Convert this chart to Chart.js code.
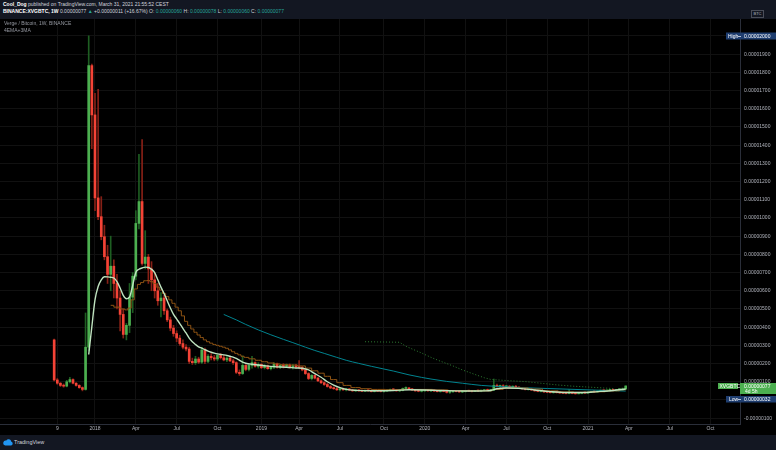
<!DOCTYPE html>
<html>
<head>
<meta charset="utf-8">
<script src="https://cdn.jsdelivr.net/npm/chart.js@4.4.1/dist/chart.umd.min.js"></script>
<style>
html,body{margin:0;padding:0;background:#000;}
#wrap{position:relative;width:776px;height:450px;overflow:hidden;background:#000;font-family:"Liberation Sans",Arial,sans-serif;}
#c{position:absolute;left:0;top:0;}
#hdr{position:absolute;left:0;top:0;width:776px;height:19px;background:#131722;color:#d1d4dc;font-size:5px;line-height:7px;}
#hdr .l1{position:absolute;left:3px;top:1px;white-space:nowrap;}
#hdr .l2{position:absolute;left:3px;top:8px;white-space:nowrap;}
#hdr b{font-weight:bold;color:#fff;}
#hdr .v{color:#26a69a;}
#btc{position:absolute;left:751px;top:10px;width:11px;height:6px;border:1px solid #4a4e59;color:#b2b5be;font-size:4px;line-height:6px;text-align:center;}
#ftr{position:absolute;left:0;top:435px;width:776px;height:15px;background:#131722;color:#d1d4dc;font-size:5.5px;}
#ftr svg{position:absolute;left:3px;top:3px;}
#ftr span{position:absolute;left:14px;top:4px;}
</style>
</head>
<body>
<div id="wrap">
<canvas id="c" width="776" height="450"></canvas>
<div id="hdr">
<div class="l1"><b>Cool_Dog</b> published on TradingView.com, March 31, 2021 21:55:52 CEST</div>
<div class="l2"><b>BINANCE:XVGBTC, 1W</b> 0.00000077 <span class="v">▲</span> +0.00000011 (+16.67%) O: <span class="v">0.00000060</span> H: <span class="v">0.00000078</span> L: <span class="v">0.00000060</span> C: <span class="v">0.00000077</span></div>
<div id="btc">BTC</div>
</div>
<div id="ftr"><svg width="10" height="8" viewBox="0 0 10 8"><path d="M2.2 7.5 H8 A2 2 0 0 0 8.2 3.6 A2.6 2.6 0 0 0 3.3 2.6 A2.2 2.2 0 0 0 2.2 7.5 Z" fill="#2196f3"/></svg><span>TradingView</span></div>
</div>
<script>
// Week index 0 = week of 2018-01-01; first candle = week of 2017-10-02
const startWeek = -13;
// values in satoshi (1e-8 BTC)
const opens = [330,110,92,80,76,100,112,92,80,68,58,290,1837,
1566,1110,1007,897,787,690,735,640,560,470,
360,410,565,680,970,1090,750,785,720,660,
600,545,560,490,440,395,365,340,310,290,
280,212,205,225,208,275,212,240,232,225,
245,232,220,230,215,205,152,145,190,168,
190,205,185,195,178,188,172,180,198,180,
190,185,192,180,188,182,178,165,145,118,
135,120,105,95,85,74,66,62,56,62,
56,58,55,50,53,50,48,52,50,46,
50,48,47,49,53,57,55,50,52,63,
66,60,55,50,48,50,54,50,52,49,
46,50,47,42,45,48,46,44,46,50,
48,47,50,49,51,55,52,54,80,74,
78,72,75,70,74,70,65,62,58,60,
55,50,47,49,44,42,40,43,40,38,
37,36,40,36,34,36,40,38,42,46,
44,48,52,50,53,55,52,56,60,60];
const highs = [335,118,96,88,108,125,116,96,84,72,478,2000,1845,
1685,1707,1117,960,850,900,770,690,600,500,
420,640,700,1040,1350,1430,930,800,760,700,
640,590,575,500,455,410,380,355,330,305,
290,230,240,235,290,285,250,255,245,250,
255,245,240,238,225,210,165,242,195,200,
240,210,205,200,195,192,185,205,202,195,
200,198,198,195,196,216,185,170,150,140,
138,125,110,100,92,80,72,68,66,66,
62,64,58,56,57,54,55,56,53,52,
54,52,51,55,60,62,58,55,66,72,
70,64,58,54,52,56,58,55,56,53,
52,54,50,48,50,52,50,48,52,54,
52,52,54,53,58,60,58,115,88,82,
84,80,80,78,80,74,70,66,64,64,
58,54,52,52,48,46,45,47,44,42,
41,58,43,40,38,42,44,44,48,50,
50,55,56,55,58,60,58,62,66,78];
const lows = [105,86,74,70,72,94,88,76,64,50,54,270,1380,
1040,990,880,770,640,600,560,500,380,340,
330,370,480,660,940,740,720,640,600,560,
520,456,470,430,380,350,320,300,280,270,
200,195,195,200,200,200,205,220,215,215,
225,215,210,210,195,145,135,140,160,160,
175,180,175,172,170,168,165,172,175,172,
175,178,175,170,175,172,160,140,112,110,
115,100,90,80,70,62,58,52,50,52,
50,52,47,46,48,45,46,48,44,44,
46,44,43,47,50,52,48,46,50,58,
58,52,48,45,44,47,48,46,47,44,
43,45,38,36,42,44,42,40,43,46,
44,45,46,45,48,50,48,52,70,68,
70,66,68,65,68,62,58,55,54,52,
48,45,44,42,40,38,37,38,36,35,
33,34,34,32,33,34,36,36,40,42,
42,45,47,46,49,50,49,53,56,60];
const closes = [110,92,80,76,100,112,92,80,68,58,290,1837,1566,
1110,1007,897,787,690,735,640,560,470,360,
410,565,680,970,1090,750,785,720,660,600,
545,560,490,440,395,365,340,310,290,280,
212,205,225,208,275,212,240,232,225,245,
232,220,230,215,205,152,145,190,168,190,
205,185,195,178,188,172,180,198,180,190,
185,192,180,188,182,178,165,145,118,135,
120,105,95,85,74,66,62,56,62,56,
58,55,50,53,50,48,52,50,46,50,
48,47,49,53,57,55,50,52,63,66,
60,55,50,48,50,54,50,52,49,46,
50,47,42,45,48,46,44,46,50,48,
47,50,49,51,55,52,54,80,74,78,
72,75,70,74,70,65,62,58,60,55,
50,47,49,44,42,40,43,40,38,37,
36,40,36,34,36,40,38,42,46,44,
48,52,50,53,55,52,56,60,60,77];

const xTickWeeks = [-12,0,13,26,39,53,65,78,92,105,118,131,144,157,170,183,196];
const xTickLabels = ['9','2018','Apr','Jul','Oct','2019','Apr','Jul','Oct','2020','Apr','Jul','Oct','2021','Apr','Jul','Oct'];

// indicator readings (week, value in satoshi)
const emaWeeks = [-2,-1,0,1,2,3,4,5,6,7,8,9,10,11,12,13,14,15,16,17,18,19,20,21,22,23,24,25,26,27,28,29,30,31,32,33,34,35,36,37,38,39,40,41,42,43,44,45,46,47,48,50,52,54,57,61,64,66,68,70,72,74,76,78,80,83,88,95,100,105,110,115,120,124,126,128,131,135,140,145,150,155,160,165,169];
const emaValues = [250,403,550,623,660,677,676,674,670,650,615,575,556,565,630,700,718,725,730,728,718,700,660,620,585,545,505,470,445,420,393,368,340,320,305,292,285,276,268,262,257,253,250,248,245,240,235,228,218,208,202,196,192,188,183,180,176,174,165,145,125,100,82,68,58,53,51,52,56,55,52,50,49,50,52,62,66,64,55,46,41,41,46,52,60];
const maWeeks = [5,7,9,10,11,12,13,14,15,16,17,18,19,20,21,22,23,24,25,26,27,28,29,30,31,32,33,34,35,36,37,38,39,40,41,42,43,44,45,46,47,48,50,52,54,56,58,60,63,66,68,70,72,74,76,78,80,83,86,90,95,100,105,110,115,120,125,128,132,136,140,145,150,155,160,165,169];
const maValues = [520,510,500,495,505,550,610,635,645,655,656,650,640,620,604,585,568,550,531,510,490,462,432,410,390,372,357,343,330,320,312,305,300,295,290,284,275,265,256,248,240,234,226,218,210,203,198,194,192,187,175,160,147,130,112,95,80,68,62,58,56,58,58,55,52,50,50,58,66,66,60,50,44,42,45,50,56];
const tealWeeks = [41,45,48,52,56,60,63,67,70,73,77,80,84,88,92,95,100,104,107,112,117,123,130,137,144,151,158,165,169];
const tealValues = [470,440,415,385,358,333,315,290,272,256,234,218,201,185,170,159,138,124,115,102,92,80,73,67,63,59,55,51,49];
const dotWeeks = [86,90,94,97,99,101,104,107,110,114,117,121,124,126,130,134,137,142,147,152,158,162,165];
const dotValues = [320,319,318,317,295,280,258,234,213,187,165,140,122,113,108,104,101,92,83,76,70,66,63];

const pts = (ws, vs) => ws.map((w, i) => ({x: w, y: vs[i]}));
const isUp = opens.map((o, i) => closes[i] >= o);
const bodyData = opens.map((o, i) => ({x: startWeek + i, y: [Math.min(o, closes[i]), Math.max(o, closes[i])]}));
const wickData = opens.map((o, i) => ({x: startWeek + i, y: [lows[i], highs[i]]}));

const FONT = '"Liberation Sans", Arial, sans-serif';
Chart.defaults.font.family = FONT;

const fmt = v => (v / 1e8).toFixed(8);

const overlay = {
  id: 'overlay',
  beforeDraw(chart) {
    const c = chart.ctx;
    c.save(); c.fillStyle = '#000'; c.fillRect(0, 0, chart.width, chart.height); c.restore();
  },
  afterDraw(chart) {
    const c = chart.ctx, y = chart.scales.y;
    c.save();
    c.textBaseline = 'middle';
    c.font = '5px ' + FONT;
    c.fillStyle = '#9598a1';
    c.fillText('Verge / Bitcoin, 1W, BINANCE', 4, 24);
    c.fillText('4EMA+3MA', 4, 31);
    // High label
    let yh = Math.round(y.getPixelForValue(2000));
    c.fillStyle = '#1f3e70'; c.fillRect(726, yh - 3.5, 50, 7);
    c.fillStyle = '#fff'; c.fillText('High', 728, yh + 0.3);
    c.fillRect(738, yh, 3, 0.7);
    c.fillText(fmt(2000), 744, yh + 0.3);
    // Last price label
    let yl = Math.round(y.getPixelForValue(closes[closes.length - 1]));
    c.fillStyle = '#4caf50';
    c.fillRect(718, yl - 3, 20, 6);
    c.fillRect(740, yl - 3, 36, 11);
    c.fillStyle = '#fff';
    c.fillText('XVGBTC', 719.5, yl + 0.3);
    c.fillText(fmt(closes[closes.length - 1]), 744, yl + 0.3);
    c.fillText('4d 5h', 745, yl + 5.5);
    // Low label
    let ylow = yl + 13;
    c.fillStyle = '#1f3e70'; c.fillRect(726, ylow - 3, 50, 6.5);
    c.fillStyle = '#fff'; c.fillText('Low', 729, ylow + 0.3);
    c.fillRect(738, ylow, 3, 0.7);
    c.fillText(fmt(Math.min(...lows)), 744, ylow + 0.3);
    c.restore();
  }
};

new Chart(document.getElementById('c'), {
  type: 'bar',
  data: {
    datasets: [
      {type: 'line', label: '4EMA', data: pts(emaWeeks, emaValues), borderColor: '#bfe3bf', borderWidth: 1.4, pointRadius: 0, cubicInterpolationMode: 'monotone', order: 1},
      {type: 'line', label: '3MA', data: pts(maWeeks, maValues), borderColor: '#8f5414', borderWidth: 1, pointRadius: 0, stepped: 'middle', order: 2},
      {type: 'line', label: 'MA long', data: pts(tealWeeks, tealValues), borderColor: '#00838f', borderWidth: 1, pointRadius: 0, cubicInterpolationMode: 'monotone', order: 3},
      {type: 'line', label: 'MA dotted', data: pts(dotWeeks, dotValues), borderColor: '#2e7d32', borderWidth: 1, borderDash: [1, 2], pointRadius: 0, order: 4},
      {label: 'bodies', data: bodyData, backgroundColor: isUp.map(u => u ? '#4caf50' : '#f44336'), borderWidth: 0, barThickness: 2, minBarLength: 1, grouped: false, order: 5},
      {label: 'wicks', data: wickData, backgroundColor: isUp.map(u => u ? '#1e5e22' : '#862016'), borderWidth: 0, barThickness: 1, grouped: false, order: 6}
    ]
  },
  options: {
    responsive: false,
    animation: false,
    devicePixelRatio: 1,
    layout: {padding: {top: 19, bottom: 15, left: 0, right: 0}},
    plugins: {legend: {display: false}, tooltip: {enabled: false}},
    scales: {
      x: {
        type: 'linear', min: -30.25, max: 205.4, offset: false,
        afterBuildTicks: s => { s.ticks = xTickWeeks.map(v => ({value: v})); },
        afterFit: s => { s.height = 11; },
        ticks: {autoSkip: false, maxRotation: 0, minRotation: 0, padding: 2, color: '#b2b5be', font: {size: 5},
          callback: v => { const i = xTickWeeks.indexOf(v); return i >= 0 ? xTickLabels[i] : ''; }},
        grid: {color: '#111111', drawTicks: false, offset: false},
        border: {color: '#2a2e39'}
      },
      y: {
        position: 'right', min: -132, max: 2093,
        afterFit: s => { s.width = 36; },
        ticks: {stepSize: 100, includeBounds: false, padding: 4, color: '#b2b5be', font: {size: 5}, callback: v => fmt(v)},
        grid: {color: '#111111', drawTicks: false},
        border: {color: '#2a2e39'}
      }
    }
  },
  plugins: [overlay]
});
</script>
</body>
</html>
